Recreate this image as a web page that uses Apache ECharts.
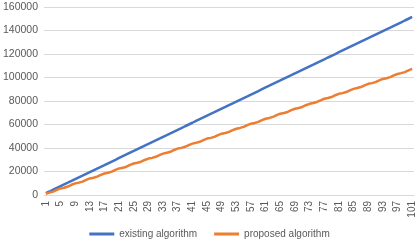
<!DOCTYPE html>
<html><head><meta charset="utf-8">
<script src="https://cdn.jsdelivr.net/npm/echarts@6/dist/echarts.min.js"></script>
<style>html,body{margin:0;padding:0;background:#fff}#c{width:419px;height:247px}</style>
</head><body><div id="c"></div>
<script>
var categories = [];
for (var k = 1; k <= 101; k++) categories.push(String(k));
var existing = [1500, 2980, 4510, 6000, 7490, 9020, 10500, 11990, 13510, 15000, 16480, 18010, 19500, 20990, 22520, 24000, 25490, 27010, 28500, 29980, 31510, 33000, 34490, 36020, 37500, 38990, 40510, 42000, 43480, 45010, 46500, 47990, 49520, 51000, 52490, 54010, 55500, 56980, 58510, 60000, 61490, 63020, 64500, 65990, 67510, 69000, 70480, 72010, 73500, 74990, 76520, 78000, 79490, 81010, 82500, 83980, 85510, 87000, 88490, 90020, 91500, 92990, 94510, 96000, 97480, 99010, 100500, 101990, 103520, 105000, 106490, 108010, 109500, 110980, 112510, 114000, 115490, 117020, 118500, 119990, 121510, 123000, 124480, 126010, 127500, 128990, 130520, 132000, 133490, 135010, 136500, 137980, 139510, 141000, 142490, 144020, 145500, 146990, 148510, 150000, 151500];
var proposed = [1100, 2000, 2900, 4400, 5600, 6200, 7200, 8700, 9900, 10500, 11400, 12900, 14100, 14700, 15600, 17100, 18300, 19000, 19900, 21400, 22600, 23200, 24100, 25600, 26800, 27400, 28300, 29800, 31000, 31600, 32500, 34000, 35200, 35900, 36800, 38300, 39500, 40100, 41000, 42500, 43700, 44400, 45300, 46700, 48000, 48600, 49500, 51000, 52200, 52800, 53700, 55200, 56400, 57100, 58000, 59500, 60700, 61300, 62200, 63700, 64900, 65600, 66500, 67900, 69200, 69800, 70700, 72200, 73400, 74000, 74900, 76400, 77600, 78300, 79200, 80600, 81900, 82500, 83400, 84900, 86100, 86700, 87600, 89100, 90300, 91000, 91900, 93300, 94600, 95200, 96100, 97600, 98800, 99400, 100300, 101800, 103000, 103700, 104600, 106100, 107300];
var seriesNames = ['existing algorithm', 'proposed algorithm'];
var yTicks = {min: 0, max: 160000, interval: 20000};

var chart = echarts.init(document.getElementById('c'), null, {renderer: 'canvas'});
var font = 'Liberation Sans';
chart.setOption({
  animation: false,
  color: ['#4472C4', '#ED7D31'],
  grid: {left: 41, right: 5, top: 7, bottom: 52},
  legend: {
    data: seriesNames, bottom: 3, left: 'center', icon: 'rect', itemWidth: 25, itemHeight: 3, itemGap: 17,
    textStyle: {color: '#595959', fontSize: 10, fontFamily: font}
  },
  xAxis: {
    type: 'category', data: categories, boundaryGap: true,
    axisLine: {lineStyle: {color: '#D9D9D9'}}, axisTick: {show: false},
    axisLabel: {interval: 3, rotate: 90, color: '#595959', fontSize: 10, fontFamily: font, margin: 6}
  },
  yAxis: {
    type: 'value', min: yTicks.min, max: yTicks.max, interval: yTicks.interval,
    axisLine: {show: false}, axisTick: {show: false},
    splitLine: {lineStyle: {color: '#D9D9D9'}},
    axisLabel: {color: '#595959', fontSize: 10.5, fontFamily: font, margin: 6, formatter: function (v) { return String(v); }}
  },
  series: [
    {name: seriesNames[0], type: 'line', data: existing, showSymbol: false, lineStyle: {width: 2.5}},
    {name: seriesNames[1], type: 'line', data: proposed, showSymbol: false, lineStyle: {width: 2.5}}
  ]
});
</script></body></html>
